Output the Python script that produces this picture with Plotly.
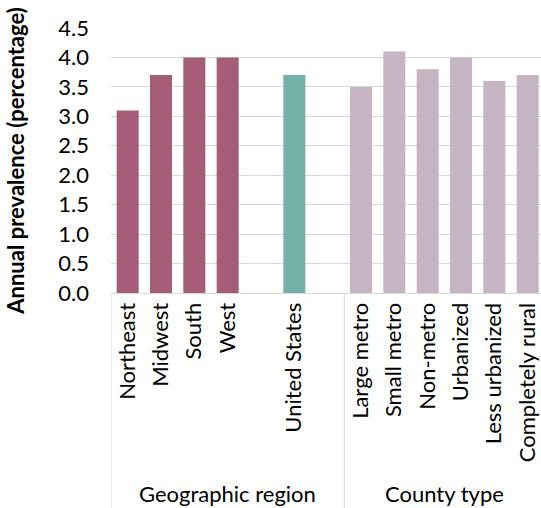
import plotly.graph_objects as go

region_labels = ["Northeast", "Midwest", "South", "West"]
region_values = [3.1, 3.7, 4.0, 4.0]
us_label = "United States"
us_value = 3.7
county_labels = ["Large metro", "Small metro", "Non-metro", "Urbanized", "Less urbanized", "Completely rural"]
county_values = [3.5, 4.1, 3.8, 4.0, 3.6, 3.7]
group_labels = ["Geographic region", "County type"]
y_ticks = [0.0, 0.5, 1.0, 1.5, 2.0, 2.5, 3.0, 3.5, 4.0, 4.5]

region_color = "#A55C76"
us_color = "#73B1A6"
county_color = "#C5B4C1"

x = region_labels + [" "] + [us_label] + ["  "] + county_labels
y = region_values + [None] + [us_value] + [None] + county_values
colors = [region_color] * len(region_labels) + [us_color, us_color, us_color] + [county_color] * len(county_labels)

FONT = "Lato"
fig = go.Figure(go.Bar(x=x, y=y, marker=dict(color=colors, line=dict(width=0)), showlegend=False, hoverinfo="skip"))

n_reg = len(region_labels)
sep_x = n_reg + 2 + 0.5
fig.update_layout(
    width=541, height=508,
    margin=dict(l=111, r=0, t=28, b=215, autoexpand=False),
    plot_bgcolor="white", paper_bgcolor="white",
    bargap=0.34,
    font=dict(family=FONT, size=22, color="#000000"),
    xaxis=dict(
        type="category", categoryorder="array", categoryarray=x,
        range=[-0.5, len(x) - 0.6], automargin=False,
        tickangle=-90, showgrid=False, showline=True, linecolor="#D9D9D9", linewidth=1,
        ticks="", tickfont=dict(family=FONT, size=22, color="#000000"),
    ),
    yaxis=dict(
        range=[0, 4.5], tickvals=y_ticks, tickformat=".1f", automargin=False,
        showgrid=True, gridcolor="#D9D9D9", gridwidth=1, zeroline=False,
        ticks="", ticklabelstandoff=21,
        tickfont=dict(family=FONT, size=22, color="#000000"),
        title=dict(text="<b>Annual prevalence (percentage)</b>", font=dict(family=FONT, size=22, color="#000000"), standoff=27),
    ),
)

for xv in [-0.5, sep_x]:
    fig.add_shape(type="line", xref="x", yref="paper", x0=xv, x1=xv, y0=0, y1=-0.82,
                  line=dict(color="#D9D9D9", width=1))

fig.add_annotation(x=(-0.5 + sep_x) / 2, y=-0.755, xref="x", yref="paper", text=group_labels[0],
                   showarrow=False, yanchor="middle", font=dict(family=FONT, size=22, color="#000000"))
fig.add_annotation(x=(sep_x + len(x) - 0.5) / 2, y=-0.755, xref="x", yref="paper", text=group_labels[1],
                   showarrow=False, yanchor="middle", font=dict(family=FONT, size=22, color="#000000"))

fig.write_html("out.html", config={"displayModeBar": False},
               post_script="document.body.style.margin='0';document.body.style.overflow='hidden';")
